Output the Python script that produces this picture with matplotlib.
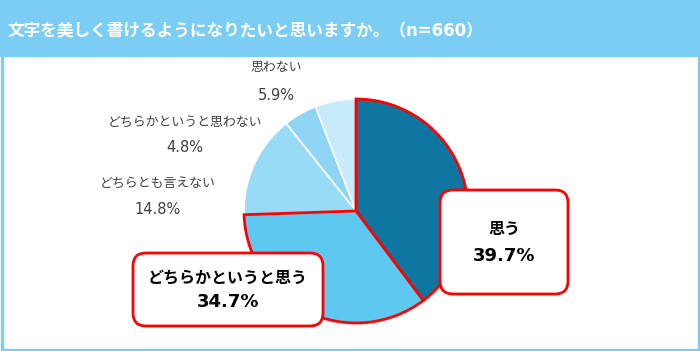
import matplotlib
matplotlib.use('Agg')
import matplotlib.pyplot as plt
from matplotlib.patches import Rectangle, FancyBboxPatch

# DejaVu for latin/digits (wide like the original), Noto CJK for Japanese
plt.rcParams['font.family'] = ['DejaVu Sans', 'Noto Sans CJK JP']
JP = ['Noto Sans CJK JP', 'DejaVu Sans']

# ------------------------------------------------------------
# DATA
# ------------------------------------------------------------
title = '文字を美しく書けるようになりたいと思いますか。（n=660）'
labels = ['思う', 'どちらかというと思う', 'どちらとも言えない',
          'どちらかというと思わない', '思わない']
values = [39.7, 34.7, 14.8, 4.8, 5.9]
colors = ['#0e76a0', '#5ec8f0', '#97dbf6', '#8ed4f4', '#c8ebfb']
highlight = [True, True, False, False, False]

W, H = 700, 351
HEADER = '#7ccdf4'

fig = plt.figure(figsize=(W / 100, H / 100), dpi=100)
ax = fig.add_axes([0, 0, 1, 1])
ax.axis('off')

def py(y):
    # pixel row (from top) -> data y
    return H - y

# frame + header band
ax.add_patch(Rectangle((1.5, 1.5), W - 3, H - 3, facecolor='white',
                       edgecolor=HEADER, lw=2.4, zorder=0))
ax.add_patch(Rectangle((0, py(57)), W, 57, facecolor=HEADER,
                       edgecolor='none', zorder=1))
ax.text(8, py(31), title, color='white', fontsize=12, fontweight='bold',
        va='center', ha='left', zorder=2)

# pie
cx, cy, r = 356, py(211), 112
wedges, _ = ax.pie(values, startangle=90, counterclock=False, colors=colors,
                   center=(cx, cy), radius=r,
                   wedgeprops=dict(edgecolor='white', linewidth=1.2))
ax.set_xlim(0, W)
ax.set_ylim(0, H)
ax.set_aspect('auto')
for w, hl in zip(wedges, highlight):
    if hl:
        w.set_edgecolor('#ff0000')
        w.set_linewidth(2.0)
        w.set_zorder(3)

# small grey labels
grey = '#404040'
small = [(276, 68, 95), (185, 122, 148), (158, 183, 210)]
for (x, y1, y2), lab, val in zip(small, labels[:1:-1], values[:1:-1]):
    ax.text(x, py(y1), lab, color=grey, fontsize=9.3, ha='center', va='center',
            family=JP)
    ax.text(x, py(y2), f'{val}%', color=grey, fontsize=10.5, ha='center',
            va='center')

# callout boxes
boxes = [(440, 190, 128, 104, 504, 229, 256),
         (133, 253, 190, 73, 228, 278, 302)]
for (bx, by, bw, bh, tx, t1, t2), lab, val in zip(boxes, labels[:2], values[:2]):
    ax.add_patch(FancyBboxPatch((bx, py(by + bh)), bw, bh,
                                boxstyle='round,pad=0,rounding_size=13',
                                facecolor='white', edgecolor='#ff0000',
                                lw=2.0, zorder=5))
    ax.text(tx, py(t1), lab, fontsize=11.5, fontweight='bold', color='black',
            ha='center', va='center', zorder=6, family=JP)
    ax.text(tx, py(t2), f'{val}%', fontsize=13, fontweight='bold', color='black',
            ha='center', va='center', zorder=6)

fig.savefig('out.png', dpi=100)
